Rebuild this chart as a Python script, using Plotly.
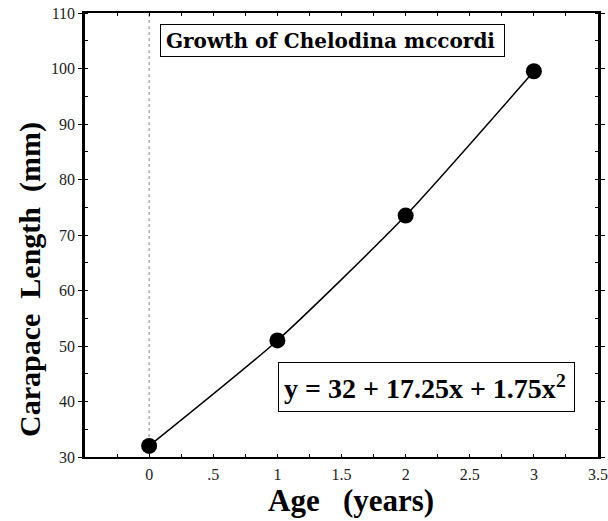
import plotly.graph_objects as go

age = [0, 1, 2, 3]
length_mm = [32, 51, 73.5, 99.5]
x_tick_vals = [0, 0.5, 1, 1.5, 2, 2.5, 3, 3.5]
x_tick_text = ["0", ".5", "1", "1.5", "2", "2.5", "3", "3.5"]
y_tick_vals = [30, 40, 50, 60, 70, 80, 90, 100, 110]
title_text = "Growth of Chelodina mccordi"
equation_text = "y = 32 + 17.25x + 1.75x<sup>2</sup>"
x_title = "Age   (years)"
y_title = "Carapace  Length  (mm)"

serif = "Times New Roman, Liberation Serif, serif"
wide_serif = "DejaVu Serif, serif"

fig = go.Figure()
fig.add_trace(go.Scatter(
    x=age, y=length_mm, mode="lines+markers",
    line=dict(color="black", width=1.5, shape="spline", smoothing=0.6),
    marker=dict(color="black", size=16),
    showlegend=False, cliponaxis=False,
))

# dotted line at x = 0
fig.add_shape(type="line", xref="x", yref="paper", x0=0, x1=0, y0=0.045, y1=1,
              line=dict(color="#888", width=1, dash="dot"), layer="below")

fig.update_layout(
    width=608, height=521,
    margin=dict(l=85, r=10, t=13, b=64),
    paper_bgcolor="white", plot_bgcolor="white",
    font=dict(family=serif, color="black"),
    xaxis=dict(
        range=[-0.5, 3.5], tickvals=x_tick_vals, ticktext=x_tick_text,
        ticks="inside", ticklen=3, tickcolor="black",
        showline=True, linecolor="black", linewidth=2, mirror="ticks",
        showgrid=False, zeroline=False, automargin=False,
        ticklabelstandoff=2,
        tickfont=dict(size=16, family=serif, color="#222"),
        minor=dict(dtick=0.25, tick0=0, ticks="inside", ticklen=3, tickcolor="black"),
    ),
    yaxis=dict(
        range=[30, 110], tickvals=y_tick_vals,
        ticks="outside", ticklen=4, tickcolor="black",
        showline=True, linecolor="black", linewidth=2.5, mirror="ticks",
        showgrid=False, zeroline=False, automargin=False,
        ticklabelstandoff=0,
        tickfont=dict(size=16, family=serif, color="#222"),
        minor=dict(dtick=5, tick0=30, ticks="inside", ticklen=3, tickcolor="black"),
    ),
    annotations=[
        dict(x=0.146, y=0.975, xref="paper", yref="paper", xanchor="left", yanchor="top",
             text="<b>" + title_text + "</b>", showarrow=False,
             font=dict(size=20, family=wide_serif, color="black"),
             bordercolor="black", borderwidth=1, borderpad=5, bgcolor="white",
             width=333, height=21, align="left"),
        dict(x=0.376, y=0.214, xref="paper", yref="paper", xanchor="left", yanchor="top",
             text="<b>" + equation_text + "</b>", showarrow=False,
             font=dict(size=28, family=serif, color="black"),
             bordercolor="black", borderwidth=1, borderpad=5, bgcolor="white",
             width=285, height=38, align="left"),
        dict(x=0.518, y=-0.097, xref="paper", yref="paper", xanchor="center", yanchor="middle",
             text="<b>" + x_title + "</b>", showarrow=False,
             font=dict(size=31, family=serif, color="black")),
        dict(x=-0.107, y=0.399, xref="paper", yref="paper", xanchor="center", yanchor="middle",
             text="<b>" + y_title + "</b>", showarrow=False, textangle=-90,
             font=dict(size=30, family=serif, color="black")),
    ],
)

fig.write_html("out.html", config={"displayModeBar": False},
               post_script="document.body.style.margin='0';")
